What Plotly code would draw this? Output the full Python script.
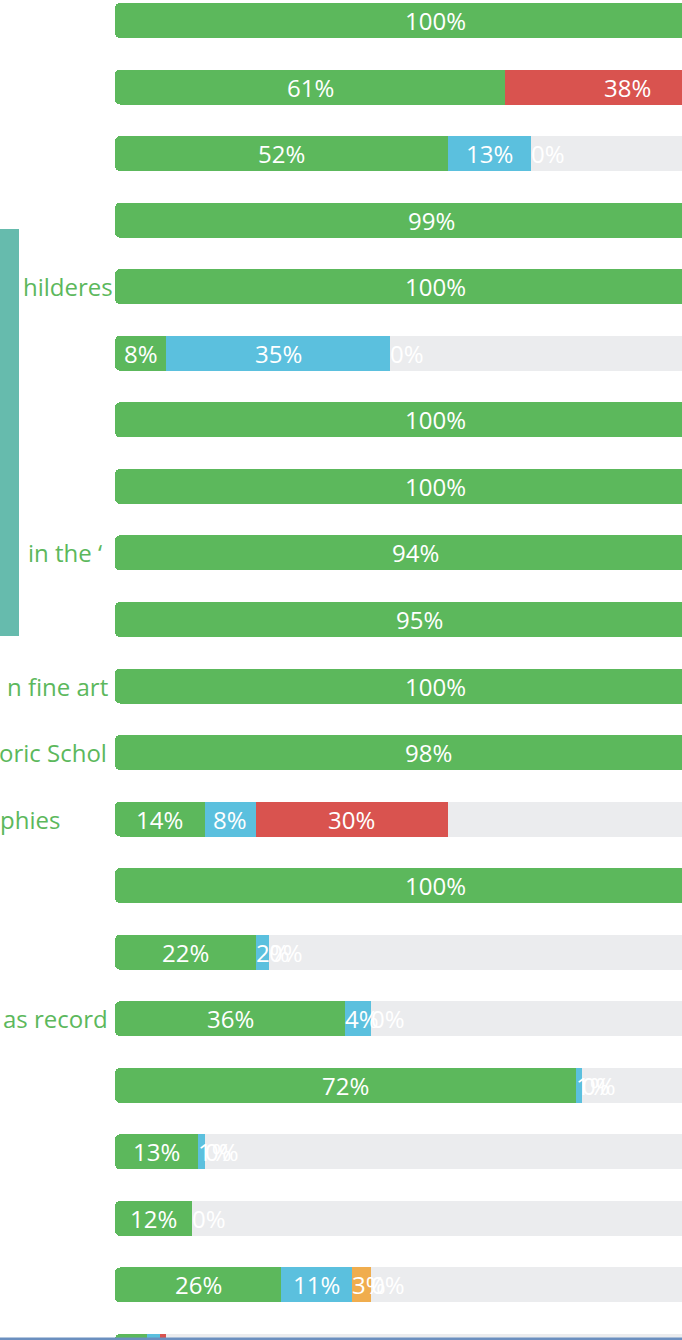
import plotly.graph_objects as go

# ---- data (top to bottom) ----
green  = [100, 61, 52, 99, 100, 8, 100, 100, 94, 95, 100, 98, 14, 100, 22, 36, 72, 13, 12, 26, 5]
blue   = [None, None, 13, None, None, 35, None, None, None, None, None, None, 8, None, 2, 4, 1, 1, 0, 11, 2]
orange = [None, None, None, None, None, None, None, None, None, None, None, None, None, None, None, None, None, None, None, 3, None]
red    = [None, 38, 0, None, None, 0, None, None, None, None, None, None, 30, None, 0, 0, 0, 0, None, 0, 1]
labels = ["", "", "", "", "hilderes", "", "", "", "in the \u2018", "", "n fine art", "oric Schol",
          "phies", "", "", "as record", "", "", "", "", ""]

W, H = 682, 1340
PX_PER_PCT = 6.4          # 100% = 640 px
BAR_LEFT = 115            # px
ROW0, ROW_STEP = 20.5, 66.55
BAR_PX = 35

GREEN, BLUE, ORANGE, RED, TRACK = "#5cb85c", "#5bc0de", "#f0ad4e", "#d9534f", "#ebecee"
FONT = "Open Sans"
FS = 24

n = len(green)
rows = list(range(n))
val = lambda a: [0 if v is None else v for v in a]
g, b, o, r = val(green), val(blue), val(orange), val(red)
c1 = g
c2 = [x + y for x, y in zip(c1, b)]
c3 = [x + y for x, y in zip(c2, o)]
c4 = [x + y for x, y in zip(c3, r)]
rest = [100 - c for c in c4]

# axis measured from the 100% end (u = 100 - pct) and reversed, stacking leftwards,
# so the outer (rounded) end of each stack is its 0% end on the left
U = lambda p: 100 - p

fig = go.Figure()
width = BAR_PX / ROW_STEP

for vals, color in [(rest, TRACK), (r, RED), (o, ORANGE), (b, BLUE), (g, GREEN)]:
    fig.add_trace(go.Bar(y=rows, x=vals, orientation="h",
                         marker=dict(color=color, line=dict(width=0)), width=width,
                         hoverinfo="skip", showlegend=False))

ann = []
for i in rows:
    starts = [0, c1[i], c2[i], c3[i]]
    for series, s0 in zip([green, blue, orange, red], starts):
        v = series[i]
        if v is None:
            continue
        txt = f"{v}%"
        est = 13.5 * (len(txt) - 1) + 20
        seg_px = v * PX_PER_PCT
        if est <= seg_px - 2:
            ann.append(dict(x=U(s0 + v / 2), y=i, xref="x", yref="y", text=txt, showarrow=False,
                            xanchor="center", yanchor="middle",
                            font=dict(family=FONT, size=FS, color="white")))
        else:
            ann.append(dict(x=U(s0), y=i, xref="x", yref="y", text=txt, showarrow=False,
                            xanchor="left", yanchor="middle", xshift=-2,
                            font=dict(family=FONT, size=FS, color="white")))

# left category labels (clipped fragments)
label_right = {4: 115, 8: 104, 10: 110, 11: 109, 15: 110}
for i, t in enumerate(labels):
    if not t:
        continue
    if i in label_right:
        ann.append(dict(x=label_right[i] / W, y=i, xref="paper", yref="y", text=t, showarrow=False,
                        xanchor="right", yanchor="middle",
                        font=dict(family=FONT, size=FS, color=GREEN)))
    else:
        ann.append(dict(x=-2 / W, y=i, xref="paper", yref="y", text=t, showarrow=False,
                        xanchor="left", yanchor="middle",
                        font=dict(family=FONT, size=FS, color=GREEN)))

shapes = [
    dict(type="rect", xref="paper", yref="paper", x0=0, x1=19 / W, y0=1 - 636 / H, y1=1 - 229 / H,
         fillcolor="#66bbad", line=dict(width=0), layer="above"),
    dict(type="rect", xref="paper", yref="paper", x0=0, x1=1, y0=0, y1=2.5 / H,
         fillcolor="#6b8fbf", line=dict(width=0), layer="above"),
]

fig.update_layout(
    width=W, height=H, margin=dict(l=0, r=0, t=0, b=0),
    paper_bgcolor="white", plot_bgcolor="white",
    barmode="stack", barcornerradius=5,
    xaxis=dict(range=[U(-BAR_LEFT / PX_PER_PCT), U((W - BAR_LEFT) / PX_PER_PCT)],
               visible=False, fixedrange=True),
    yaxis=dict(range=[(H - ROW0) / ROW_STEP, -ROW0 / ROW_STEP], visible=False, fixedrange=True),
    annotations=ann, shapes=shapes,
)

fig.write_html("out.html", config={"displayModeBar": False},
               post_script="document.body.style.margin='0';document.body.style.overflow='hidden';")
